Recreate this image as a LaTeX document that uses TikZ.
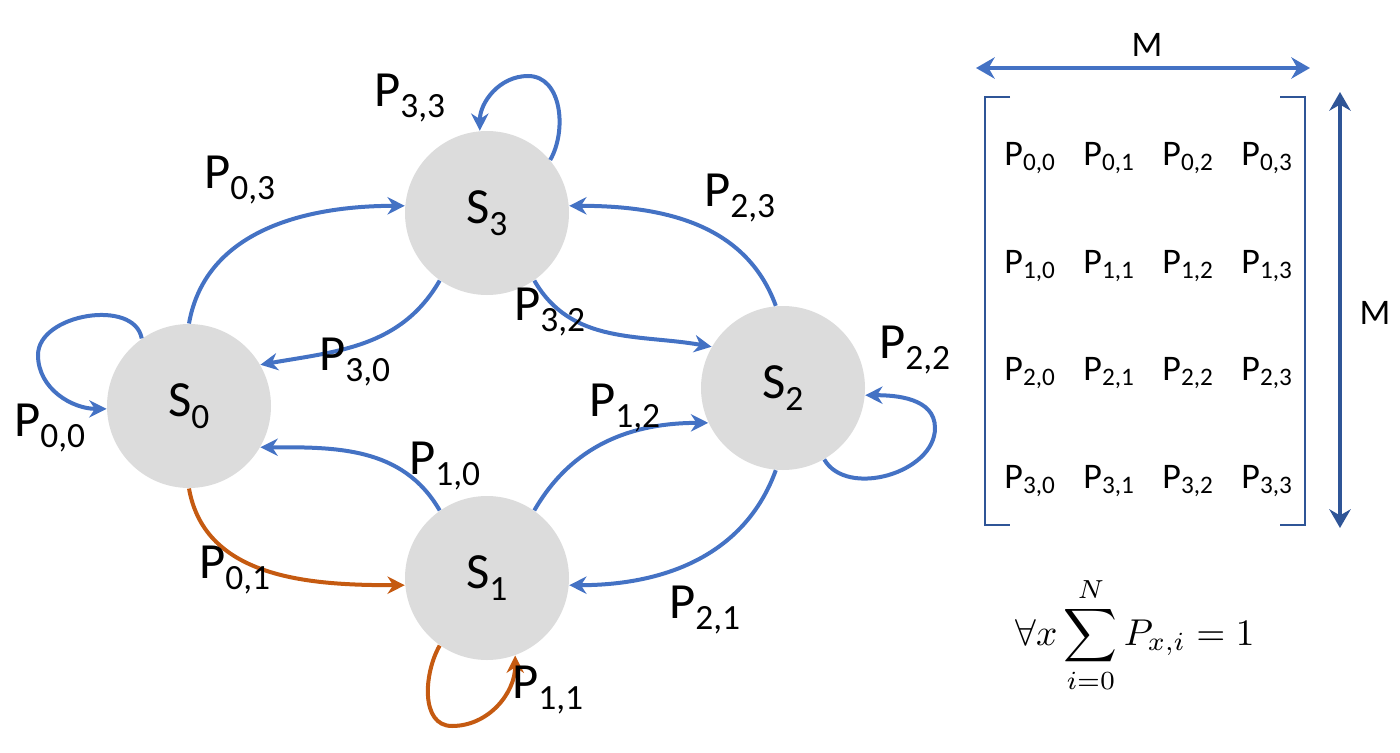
\documentclass[tikz,border=0pt]{standalone}
\usepackage{graphicx}
\usepackage{fontspec}
\setmainfont{Carlito}
\usetikzlibrary{arrows.meta}
\definecolor{edgeblue}{RGB}{68,114,196}
\definecolor{darkblue}{RGB}{47,85,151}
\definecolor{edgeorange}{RGB}{197,90,17}
\definecolor{stategray}{RGB}{220,220,220}
\tikzset{every picture/.style={line width=0.75pt}}
\tikzset{
  state/.style={circle,fill=stategray,minimum size=123pt,inner sep=0pt,font=\fontsize{38}{40}\selectfont},
  trans/.style={draw=edgeblue,line width=3pt,-{Stealth[length=13pt,width=13pt]}},
  transo/.style={trans,draw=edgeorange},
  plabel/.style={inner sep=0.75pt,font=\fontsize{38}{40}\selectfont},
  entry/.style={inner sep=0.75pt,font=\fontsize{27}{30}\selectfont}
}

\begin{document}
\begin{tikzpicture}[x=0.75pt,y=0.75pt,yscale=-1,xscale=1]
\useasboundingbox (0,0) rectangle (1400,753);

% States
\node[state] (s3) at (487,213) {S\textsubscript{3}};
\node[state] (s0) at (189,406) {S\textsubscript{0}};
\node[state] (s2) at (783,388) {S\textsubscript{2}};
\node[state] (s1) at (487,578) {S\textsubscript{1}};

% Transitions
\draw[trans] (s0.90) to[out=-80,in=180] (s3.175);
\draw[trans] (s3.235) to[out=120,in=-10] (s0.30);
\draw[trans] (s3.305) to[out=60,in=-170] (s2.150);
\draw[trans] (s2.95) to[out=-110,in=0] (s3.5);
\draw[trans] (s2.265) to[out=110,in=0] (s1.355);
\draw[trans] (s1.55) to[out=-60,in=180] (s2.205);
\draw[trans] (s1.125) to[out=-120,in=0] (s0.330);
\draw[transo] (s0.270) to[out=80,in=180] (s1.185);

% Self loops
\draw[trans] (s3.40) to[out=-60,in=0] (528,76) to[out=180,in=-90] (s3.95);
\draw[trans] (s0.125) to[out=-100,in=-90] (38,355) to[out=90,in=180] (s0.182);
\draw[trans] (s2.300) to[out=60,in=90] (935,428) to[out=-90,in=0] (s2.355);
\draw[transo] (s1.235) to[out=120,in=180] (452,726) to[out=0,in=90] (s1.290);

% Transition labels
\node[plabel] (p33) at (410,98) {P\textsubscript{3,3}};
\node[plabel] (p03) at (240,180) {P\textsubscript{0,3}};
\node[plabel] (p23) at (740,198) {P\textsubscript{2,3}};
\node[plabel] (p32) at (550,312) {P\textsubscript{3,2}};
\node[plabel] (p30) at (355,362) {P\textsubscript{3,0}};
\node[plabel] (p22) at (915,350) {P\textsubscript{2,2}};
\node[plabel] (p00) at (50,428) {P\textsubscript{0,0}};
\node[plabel] (p12) at (625,408) {P\textsubscript{1,2}};
\node[plabel] (p10) at (445,466) {P\textsubscript{1,0}};
\node[plabel] (p01) at (235,570) {P\textsubscript{0,1}};
\node[plabel] (p21) at (705,610) {P\textsubscript{2,1}};
\node[plabel] (p11) at (548,690) {P\textsubscript{1,1}};

% Matrix
\draw[darkblue,line width=2pt] (1010,97) -| (985,525) -- (1010,525);
\draw[darkblue,line width=2pt] (1280,97) -| (1305,525) -- (1280,525);
\foreach \r in {0,...,3}
  \foreach \c in {0,...,3}
    \node[entry] (m\r\c) at ({1030+79*\c},{158+107.7*\r}) {P\textsubscript{\r,\c}};

% Dimension arrows
\coordinate (hl) at (976,68);
\coordinate (hr) at (1310,68);
\coordinate (vt) at (1340,92);
\coordinate (vb) at (1340,528);
\draw[edgeblue,line width=3pt,{Stealth[length=14pt,width=16pt]}-{Stealth[length=14pt,width=16pt]}] (hl) -- (hr);
\draw[darkblue,line width=3.5pt,{Stealth[length=14pt,width=16pt]}-{Stealth[length=14pt,width=16pt]}] (vt) -- (vb);
\node[entry] (mh) at (1147,45) {M};
\node[entry] (mv) at (1375,313) {M};

% Row sum
\node[inner sep=0.75pt] (rowsum) at (1135,635)
  {\scalebox{2.8}{$\forall x \displaystyle\sum_{i=0}^{N} P_{x,i} = 1$}};
\end{tikzpicture}
\end{document}
